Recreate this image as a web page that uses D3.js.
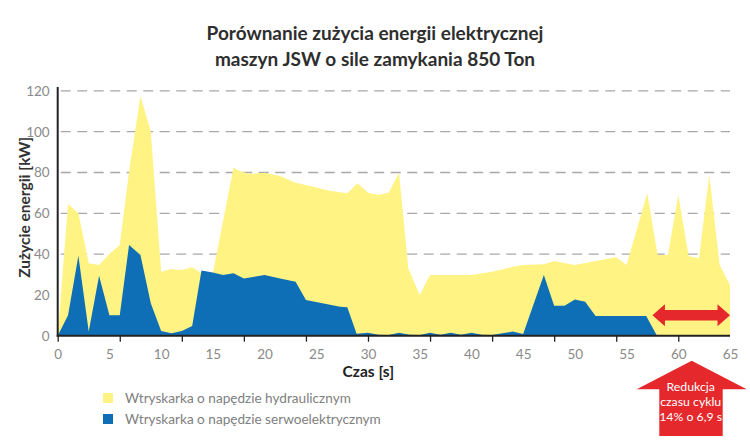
<!DOCTYPE html>
<html>
<head>
<meta charset="utf-8">
<script src="https://cdn.jsdelivr.net/npm/d3@7"></script>
<style>
  html, body { margin: 0; padding: 0; background: #ffffff; }
  svg { display: block; font-family: Lato, "Open Sans", sans-serif; }
</style>
</head>
<body>
<svg id="chart" width="750" height="442"></svg>
<script>
// ---- data ----
const titleLines = ["Porównanie zużycia energii elektrycznej", "maszyn JSW o sile zamykania 850 Ton"];
const yTitle = "Zużycie energii [kW]";
const xTitle = "Czas [s]";
const seriesNames = ["Wtryskarka o napędzie hydraulicznym", "Wtryskarka o napędzie serwoelektrycznym"];
const seriesColors = ["#fff384", "#0f6fb6"];

const timeHydraulic = [0, 1, 2, 3, 4, 5, 6, 6.9, 8, 9, 10, 11, 12, 13, 13.8, 15, 17, 17.5, 18.6, 20, 21.5, 23, 24, 26.3, 28, 29, 30, 31, 32, 33, 33.9, 35, 36, 40, 42, 44, 45, 47, 48, 50, 52, 54, 55, 57, 58, 59, 60, 61, 62, 63, 64, 65];
const powerHydraulic = [0, 64.5, 60, 35.5, 34.7, 40, 44.5, 80.5, 117.5, 100, 31.4, 32.7, 32.2, 33.5, 31, 30.6, 82.5, 80.9, 79.3, 79.9, 78.3, 75, 73.9, 71.1, 69.8, 74.7, 70.1, 69, 70.1, 79.9, 33, 20, 29.8, 29.8, 31.4, 33.8, 34.7, 35, 36.6, 34.7, 36.6, 38.4, 34.7, 69.8, 39.6, 39.6, 69, 39.1, 37.9, 78.8, 34.7, 24.9];

const timeServo = [0, 1, 2, 3, 4, 5, 6, 6.9, 8, 9, 10, 11, 12, 13, 13.9, 15, 16, 17, 18, 20, 21.5, 23, 24, 27.3, 28, 28.9, 30, 31, 32, 33, 34, 35, 36, 37, 38, 39, 40, 41, 42, 44, 45, 47, 48, 49, 50, 51, 52, 54.4, 56.9, 57.9];
const powerServo = [0, 10, 39.2, 2, 29.4, 10, 10, 44.5, 39.6, 15.9, 2.3, 1.2, 2.3, 4.8, 31.9, 31, 29.7, 30.6, 28, 29.8, 28.1, 26.5, 17.5, 14.2, 13.9, 1, 1.5, 0.5, 0.3, 1.5, 0.5, 0.3, 1.5, 0.5, 1.5, 0.5, 1.5, 0.5, 0.3, 2, 0.8, 29.8, 14.7, 14.7, 17.8, 16.7, 9.7, 9.7, 9.7, 0.3];

const xTickLabels = [0, 5, 10, 15, 20, 25, 30, 35, 40, 45, 50, 55, 60, 65];
const xTickMarks = [0, 6, 12, 18, 24, 30, 36, 42, 48, 54, 60];
const yTickLabels = [0, 20, 40, 60, 80, 100, 120];
const reductionRange = [57.5, 65];
const reductionLevel = 10;
const calloutLines = ["Redukcja", "czasu cyklu", "14% o 6,9 s"];

// ---- layout ----
const svg = d3.select("#chart");
const x = d3.scaleLinear().domain([0, 65]).range([57.7, 730]);
const y = d3.scaleLinear().domain([0, 120]).range([335.7, 90.9]);

// title
svg.append("g").selectAll("text").data(titleLines).join("text")
  .attr("x", 375).attr("y", (d, i) => 40 + i * 25.5)
  .attr("text-anchor", "middle")
  .attr("font-size", 19).attr("font-weight", "bold").attr("fill", "#2e2e2e")
  .text(d => d);

// gridlines (behind areas)
svg.append("g").selectAll("line").data(yTickLabels.filter(v => v > 0)).join("line")
  .attr("x1", x(0) + 3).attr("x2", x(65))
  .attr("y1", d => y(d)).attr("y2", d => y(d))
  .attr("stroke", "#a8a8a8").attr("stroke-width", 1.3)
  .attr("stroke-dasharray", "10,6.5");

// areas
const hydData = timeHydraulic.map((t, i) => ({ t, v: powerHydraulic[i] }));
const servoData = timeServo.map((t, i) => ({ t, v: powerServo[i] }));
const area = d3.area().x(d => x(d.t)).y0(y(0)).y1(d => y(d.v));
svg.append("path").datum(hydData).attr("d", area).attr("fill", seriesColors[0]);
svg.append("path").datum(servoData).attr("d", area).attr("fill", seriesColors[1]);

// x axis: tick marks every 6 s, labels every 5 s
const xMarks = svg.append("g").attr("transform", `translate(0,${y(0)})`)
  .call(d3.axisBottom(x).tickValues(xTickMarks).tickSize(6).tickFormat(""));
xMarks.select(".domain").remove();
xMarks.selectAll(".tick line").attr("stroke", "#222").attr("stroke-width", 1.3);

const xLabels = svg.append("g").attr("transform", `translate(0,${y(0)})`)
  .call(d3.axisBottom(x).tickValues(xTickLabels).tickSize(0).tickPadding(14));
xLabels.select(".domain").remove();
xLabels.selectAll("text").attr("font-size", 13.5).attr("fill", "#8a8a8a")
  .attr("font-family", "Lato, sans-serif");

// y axis labels
const yAxis = svg.append("g").attr("transform", `translate(${x(0)},0)`)
  .call(d3.axisLeft(y).tickValues(yTickLabels).tickSize(0).tickPadding(8));
yAxis.select(".domain").remove();
yAxis.selectAll("text").attr("font-size", 13.5).attr("fill", "#8a8a8a")
  .attr("font-family", "Lato, sans-serif");

// axis lines
svg.append("line").attr("x1", x(0)).attr("x2", x(0)).attr("y1", 87).attr("y2", y(0) + 1)
  .attr("stroke", "#222").attr("stroke-width", 2);
svg.append("line").attr("x1", x(0) - 1).attr("x2", x(65)).attr("y1", y(0)).attr("y2", y(0))
  .attr("stroke", "#222").attr("stroke-width", 2);

// axis titles
svg.append("text").attr("transform", `translate(30,${(y(0) + y(120)) / 2 - 6}) rotate(-90)`)
  .attr("text-anchor", "middle").attr("font-size", 15.5).attr("font-weight", "bold").attr("fill", "#333")
  .text(yTitle);
svg.append("text").attr("x", 394).attr("y", 377).attr("text-anchor", "end")
  .attr("font-size", 15.5).attr("font-weight", "bold").attr("fill", "#222")
  .text(xTitle);

// legend
const leg = svg.append("g").selectAll("g").data(seriesNames).join("g")
  .attr("transform", (d, i) => `translate(103,${393 + i * 21})`);
leg.append("rect").attr("width", 10).attr("height", 10).attr("fill", (d, i) => seriesColors[i]);
leg.append("text").attr("x", 22).attr("y", 10).attr("font-size", 13.6).attr("fill", "#808080").text(d => d);

// reduction double arrow
const ax0 = x(reductionRange[0]), ax1 = x(reductionRange[1]), ay = y(reductionLevel);
const hh = 11, sh = 5.3, hl = 12.5;
svg.append("path")
  .attr("d", `M${ax0},${ay} L${ax0 + hl},${ay - hh} L${ax0 + hl},${ay - sh} L${ax1 - hl},${ay - sh} L${ax1 - hl},${ay - hh} L${ax1},${ay} L${ax1 - hl},${ay + hh} L${ax1 - hl},${ay + sh} L${ax0 + hl},${ay + sh} L${ax0 + hl},${ay + hh} Z`)
  .attr("fill", "#e5282b");

// callout up-arrow
const cx = 691.7;
svg.append("path")
  .attr("d", `M${cx},360.7 L746.7,389.3 L722.7,389.3 L722.7,436 L659.3,436 L659.3,389.3 L636.7,389.3 Z`)
  .attr("fill", "#e5282b");
svg.append("g").selectAll("text").data(calloutLines).join("text")
  .attr("x", cx - 1).attr("y", (d, i) => 391 + i * 15)
  .attr("text-anchor", "middle").attr("font-size", 12.3).attr("fill", "#ffffff")
  .text(d => d);
</script>
</body>
</html>
